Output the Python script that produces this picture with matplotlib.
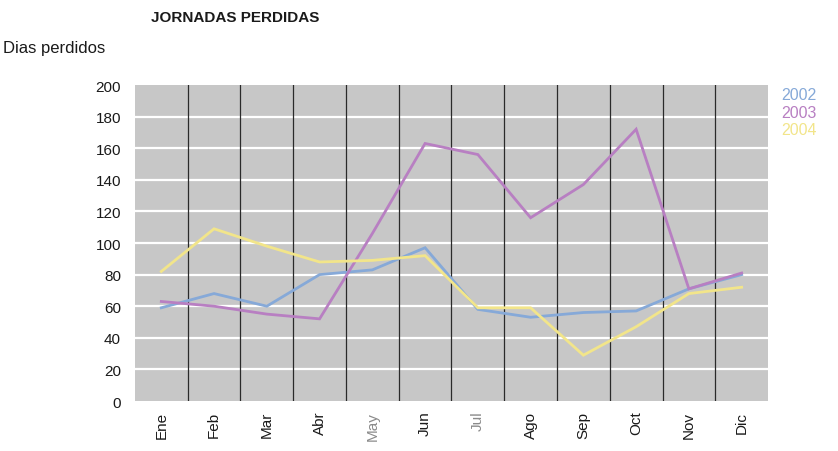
import matplotlib
matplotlib.use("Agg")
import matplotlib.pyplot as plt

months = ["Ene", "Feb", "Mar", "Abr", "May", "Jun", "Jul", "Ago", "Sep", "Oct", "Nov", "Dic"]
dias_2002 = [59, 68, 60, 80, 83, 97, 58, 53, 56, 57, 71, 80]
dias_2003 = [63, 60, 55, 52, 106, 163, 156, 116, 137, 172, 71, 81]
dias_2004 = [82, 109, 98, 88, 89, 92, 59, 59, 29, 47, 68, 72]
years = ["2002", "2003", "2004"]
colors = ["#86a9d8", "#b87fc2", "#f2e58a"]

plt.rcParams['font.family'] = ['Liberation Sans', 'DejaVu Sans']

fig = plt.figure(figsize=(8.38, 4.52), dpi=100)
ax = fig.add_axes([0.161, 0.1106, 0.7555, 0.6991])
ax.set_facecolor("#c7c7c7")

x = list(range(len(months)))
for vals, c in zip([dias_2002, dias_2003, dias_2004], colors):
    ax.plot(x, vals, color=c, lw=2.0, solid_joinstyle="miter")

# white horizontal grid, dark vertical separators
for v in range(20, 200, 20):
    ax.axhline(v, color="white", lw=1.6, zorder=1)
for i in range(1, len(months)):
    ax.axvline(i - 0.5, color="#2a2a2a", lw=0.9, zorder=1)

ax.set_xlim(-0.5, len(months) - 0.5)
ax.set_ylim(0, 200)
ax.set_yticks(range(0, 201, 20))
ax.set_xticks(x)
ax.set_xticklabels(months, rotation=90, fontsize=11, color="#1a1a1a")
for lab in ax.get_xticklabels():
    if lab.get_text() in ("May", "Jul"):
        lab.set_color("#8a8a8a")
ax.tick_params(axis="y", length=0, pad=10, labelsize=11, labelcolor="#1a1a1a")
ax.tick_params(axis="x", length=0, pad=7)
for s in ax.spines.values():
    s.set_visible(False)

fig.text(151 / 838, 1 - 18 / 452, "JORNADAS PERDIDAS", fontsize=11, fontweight="bold",
         va="center", ha="left", color="#1a1a1a")
fig.text(3 / 838, 1 - 49 / 452, "Dias perdidos", fontsize=12, va="center", ha="left",
         color="#1a1a1a")

for i, (yr, c) in enumerate(zip(years, colors)):
    fig.text(781 / 838, 1 - (95 + i * 18) / 452, yr, fontsize=11.5, color=c,
             va="center", ha="left")

fig.savefig("out.png", dpi=100)
